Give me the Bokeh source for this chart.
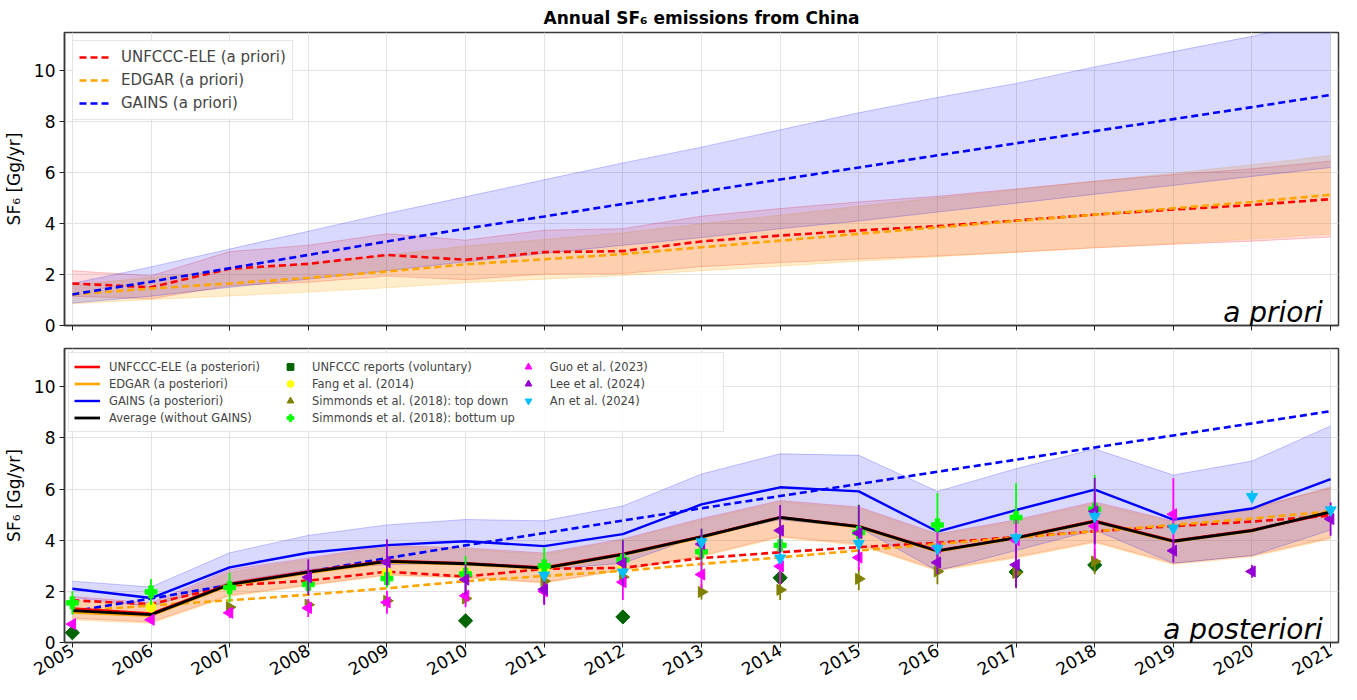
import math
from bokeh.plotting import figure
from bokeh.layouts import column
from bokeh.models import Range1d, FixedTicker, Legend, LegendItem, Label
from bokeh.embed import file_html
from bokeh.resources import INLINE

FONT = "DejaVu Sans"

years = [2005, 2006, 2007, 2008, 2009, 2010, 2011, 2012, 2013, 2014, 2015, 2016, 2017, 2018, 2019, 2020, 2021]
y_ticks = [0, 2, 4, 6, 8, 10]

# ---- a priori ----
unfccc_pri = [1.65, 1.50, 2.23, 2.42, 2.77, 2.58, 2.88, 2.92, 3.30, 3.53, 3.73, 3.90, 4.12, 4.35, 4.55, 4.73, 4.96]
unfccc_pri_lo = [1.15, 1.05, 1.56, 1.70, 1.94, 1.80, 2.02, 2.04, 2.31, 2.47, 2.61, 2.73, 2.88, 3.05, 3.19, 3.31, 3.47]
unfccc_pri_hi = [2.15, 1.95, 2.90, 3.15, 3.60, 3.35, 3.74, 3.80, 4.29, 4.59, 4.85, 5.07, 5.36, 5.66, 5.92, 6.15, 6.45]
edgar_pri = [1.22, 1.45, 1.65, 1.87, 2.12, 2.40, 2.60, 2.80, 3.07, 3.33, 3.60, 3.85, 4.10, 4.35, 4.60, 4.85, 5.13]
edgar_pri_lo = [0.85, 1.02, 1.16, 1.31, 1.48, 1.68, 1.82, 1.96, 2.15, 2.33, 2.52, 2.70, 2.87, 3.05, 3.22, 3.40, 3.59]
edgar_pri_hi = [1.59, 1.89, 2.15, 2.43, 2.76, 3.12, 3.38, 3.64, 3.99, 4.33, 4.68, 5.01, 5.33, 5.66, 5.98, 6.31, 6.67]
gains_pri = [1.22, 1.72, 2.25, 2.77, 3.30, 3.80, 4.28, 4.77, 5.25, 5.73, 6.20, 6.68, 7.15, 7.63, 8.10, 8.57, 9.05]
gains_pri_lo = [0.88, 1.15, 1.50, 1.82, 2.15, 2.50, 2.83, 3.15, 3.45, 3.80, 4.10, 4.45, 4.80, 5.15, 5.50, 5.85, 6.20]
gains_pri_hi = [1.65, 2.30, 3.00, 3.70, 4.40, 5.05, 5.72, 6.38, 7.00, 7.68, 8.35, 8.95, 9.50, 10.15, 10.75, 11.35, 12.00]

# ---- a posteriori ----
unfccc_post = [1.33, 1.13, 2.30, 2.78, 3.20, 3.10, 2.93, 3.47, 4.15, 4.90, 4.55, 3.60, 4.10, 4.76, 3.98, 4.40, 5.07]
unfccc_post_lo = [0.95, 0.80, 1.85, 2.25, 2.65, 2.55, 2.35, 2.85, 3.40, 4.15, 3.85, 2.85, 3.35, 3.95, 3.10, 3.40, 4.10]
unfccc_post_hi = [1.80, 1.55, 2.85, 3.30, 3.80, 3.70, 3.50, 4.05, 4.85, 5.55, 5.30, 4.25, 4.80, 5.50, 4.75, 5.25, 6.05]
edgar_post = [1.18, 1.05, 2.24, 2.72, 3.14, 3.06, 2.89, 3.43, 4.11, 4.88, 4.51, 3.56, 4.08, 4.72, 3.94, 4.36, 5.14]
edgar_post_lo = [0.88, 0.75, 1.80, 2.22, 2.62, 2.52, 2.33, 2.82, 3.35, 4.10, 3.80, 2.80, 3.30, 3.90, 3.05, 3.35, 4.05]
edgar_post_hi = [1.65, 1.45, 2.75, 3.25, 3.75, 3.65, 3.45, 4.00, 4.80, 5.50, 5.25, 4.20, 4.75, 5.45, 4.70, 5.20, 6.10]
gains_post = [2.10, 1.74, 2.94, 3.51, 3.81, 3.96, 3.77, 4.24, 5.40, 6.07, 5.91, 4.34, 5.18, 5.98, 4.81, 5.24, 6.39]
gains_post_lo = [1.76, 1.41, 2.35, 2.85, 3.05, 3.10, 2.85, 3.10, 4.20, 4.80, 4.50, 2.80, 3.60, 4.40, 3.10, 3.40, 4.40]
gains_post_hi = [2.40, 2.17, 3.51, 4.19, 4.60, 4.81, 4.76, 5.34, 6.59, 7.38, 7.32, 5.91, 6.80, 7.57, 6.55, 7.10, 8.47]
avg_post = [1.25, 1.09, 2.27, 2.75, 3.17, 3.08, 2.91, 3.45, 4.13, 4.89, 4.53, 3.58, 4.09, 4.74, 3.96, 4.38, 5.11]

# ---- independent estimates ----
unfccc_rep_years = [2005, 2010, 2012, 2014, 2017, 2018]
unfccc_rep = [0.38, 0.85, 1.00, 2.53, 2.76, 3.03]

fang_years = [2006, 2009, 2010, 2011, 2012]
fang = [1.38, 2.72, 2.75, 2.85, 2.89]
fang_err = [0.15, 0.20, 0.20, 0.20, 0.20]

simm_td_years = [2007, 2008, 2009, 2010, 2011, 2012, 2013, 2014, 2015, 2016, 2017, 2018]
simm_td = [1.38, 1.48, 1.63, 1.72, 2.40, 2.56, 1.98, 2.06, 2.49, 2.78, 2.72, 3.17]
simm_td_err = [0.15, 0.15, 0.20, 0.20, 0.20, 0.25, 0.30, 0.40, 0.45, 0.50, 0.60, 0.50]

simm_bu_years = [2005, 2006, 2007, 2008, 2009, 2010, 2011, 2012, 2013, 2014, 2015, 2016, 2017, 2018]
simm_bu = [1.55, 1.98, 2.15, 2.27, 2.50, 2.68, 3.00, 3.23, 3.55, 3.80, 4.30, 4.60, 4.89, 5.21]
simm_bu_err = [0.45, 0.50, 0.58, 0.35, 0.35, 0.70, 0.72, 0.80, 0.90, 1.00, 1.10, 1.25, 1.34, 1.34]

guo_years = [2005, 2006, 2007, 2008, 2009, 2010, 2011, 2012, 2013, 2014, 2015, 2016, 2017, 2018, 2019]
guo = [0.72, 0.89, 1.16, 1.35, 1.57, 1.83, 2.00, 2.36, 2.66, 2.98, 3.32, 3.70, 4.00, 4.55, 5.02]
guo_err = [0.12, 0.12, 0.20, 0.35, 0.45, 0.45, 0.50, 0.70, 0.55, 0.70, 0.50, 0.60, 0.80, 1.30, 1.40]

lee_years = [2008, 2009, 2010, 2011, 2012, 2013, 2014, 2015, 2016, 2017, 2018, 2019, 2020, 2021]
lee = [2.55, 3.14, 2.46, 2.08, 3.10, 3.85, 4.38, 4.28, 3.13, 3.04, 5.13, 3.59, 2.78, 4.83]
lee_err = [0.70, 0.90, 0.60, 0.60, 0.90, 0.60, 1.00, 1.10, 0.45, 0.90, 1.30, 0.45, 0.25, 0.65]

an_years = [2011, 2012, 2013, 2014, 2015, 2016, 2017, 2018, 2019, 2020, 2021]
an = [2.63, 2.75, 3.93, 3.30, 3.87, 3.68, 4.09, 4.93, 4.47, 5.70, 5.18]
an_err = [0.15, 0.15, 0.20, 0.20, 0.20, 0.20, 0.20, 0.20, 0.20, 0.25, 0.20]


def make_fig(height, top, bottom, show_xlabels):
    p = figure(width=1341, height=height, output_backend="svg", toolbar_location=None,
               x_range=Range1d(2004.9, 2021.1), y_range=Range1d(0, 11.5),
               min_border_left=58, min_border_right=3, min_border_top=top,
               min_border_bottom=bottom, background_fill_color="white",
               border_fill_color="white")
    p.xaxis.ticker = FixedTicker(ticks=years)
    p.yaxis.ticker = FixedTicker(ticks=y_ticks)
    p.xgrid.grid_line_color = "#e3e3e3"
    p.ygrid.grid_line_color = "#e3e3e3"
    p.outline_line_color = "#3a3a3a"
    p.outline_line_width = 1.5
    p.outline_line_alpha = 1
    for ax in (p.xaxis, p.yaxis):
        ax.axis_line_color = "#3a3a3a"
        ax.axis_line_width = 1.5
        ax.major_tick_line_color = "#222222"
        ax.major_tick_out = 5
        ax.major_tick_in = 0
        ax.minor_tick_line_color = None
        ax.major_label_text_font = FONT
        ax.major_label_text_font_size = "17px"
        ax.major_label_text_color = "black"
    p.yaxis.axis_label = "SF₆ [Gg/yr]"
    p.yaxis.axis_label_text_font = FONT
    p.yaxis.axis_label_text_font_size = "17px"
    p.yaxis.axis_label_text_font_style = "normal"
    p.yaxis.axis_label_text_color = "black"
    p.yaxis.axis_label_standoff = 7
    p.yaxis.major_label_standoff = 4
    if show_xlabels:
        p.xaxis.major_label_orientation = math.pi / 6
        p.xaxis.major_label_standoff = 1
        p.xaxis.major_label_text_line_height = 0.85
    else:
        p.xaxis.major_label_overrides = {y: "" for y in years}
        p.xaxis.major_label_text_font_size = "0px"
        p.xaxis.major_label_standoff = 0
    return p


def band(p, lo, hi, color, alpha):
    p.varea(x=years, y1=lo, y2=hi, fill_color=color, fill_alpha=alpha)
    p.line(years, lo, line_color=color, line_alpha=0.22, line_width=1)
    p.line(years, hi, line_color=color, line_alpha=0.22, line_width=1)


DASH = "7 4"

# ================= top panel =================
p1 = make_fig(337, 24, 12, False)
p1.title.text = "Annual SF₆ emissions from China"
p1.title.align = "center"
p1.title.text_font = FONT
p1.title.text_font_size = "17px"
p1.title.text_font_style = "bold"
p1.title.text_color = "black"

band(p1, unfccc_pri_lo, unfccc_pri_hi, "red", 0.14)
band(p1, edgar_pri_lo, edgar_pri_hi, "orange", 0.2)
band(p1, gains_pri_lo, gains_pri_hi, "blue", 0.15)
r_u = p1.line(years, unfccc_pri, line_color="red", line_width=2.6, line_dash=DASH)
r_e = p1.line(years, edgar_pri, line_color="orange", line_width=2.6, line_dash=DASH)
r_g = p1.line(years, gains_pri, line_color="blue", line_width=2.6, line_dash=DASH)

leg1 = Legend(items=[LegendItem(label="UNFCCC-ELE (a priori)", renderers=[r_u]),
                     LegendItem(label="EDGAR (a priori)", renderers=[r_e]),
                     LegendItem(label="GAINS (a priori)", renderers=[r_g])],
              location="top_left")
leg1.margin = 8
leg1.padding = 6
leg1.spacing = 3
leg1.glyph_width = 30
leg1.glyph_height = 20
leg1.label_standoff = 12
leg1.label_text_font = FONT
leg1.label_text_font_size = "15px"
leg1.border_line_color = "#cccccc"
leg1.border_line_width = 1
leg1.background_fill_alpha = 0.85
p1.add_layout(leg1)

p1.add_layout(Label(x=2020.9, y=0.5, text="a priori", text_align="right",
                    text_baseline="alphabetic", text_font=FONT, text_font_size="28px",
                    text_font_style="italic", text_color="black"))

# ================= bottom panel =================
p2 = make_fig(347, 11, 34, True)

band(p2, unfccc_post_lo, unfccc_post_hi, "red", 0.14)
band(p2, edgar_post_lo, edgar_post_hi, "orange", 0.2)
band(p2, gains_post_lo, gains_post_hi, "blue", 0.15)

p2.line(years, unfccc_pri, line_color="red", line_width=2.6, line_dash=DASH)
p2.line(years, edgar_pri, line_color="orange", line_width=2.6, line_dash=DASH)
p2.line(years, gains_pri, line_color="blue", line_width=2.6, line_dash=DASH)

ru = p2.line(years, unfccc_post, line_color="red", line_width=2.6)
re_ = p2.line(years, edgar_post, line_color="orange", line_width=2.6)
rg = p2.line(years, gains_post, line_color="blue", line_width=2.4)
ra = p2.line(years, avg_post, line_color="black", line_width=2.8)


def errpts(p, xs, vals, errs, color, marker, size, angle=0.0):
    p.segment(x0=xs, y0=[v - e for v, e in zip(vals, errs)], x1=xs,
              y1=[v + e for v, e in zip(vals, errs)], line_color=color, line_width=1.8)
    return p.scatter(xs, vals, marker=marker, size=size, angle=angle,
                     fill_color=color, line_color=color)


r_rep = p2.scatter(unfccc_rep_years, unfccc_rep, marker="square", size=10, angle=math.pi / 4,
                   fill_color="darkgreen", line_color="darkgreen")
r_fang = errpts(p2, fang_years, fang, fang_err, "yellow", "circle", 10)
r_td = errpts(p2, simm_td_years, simm_td, simm_td_err, "olive", "triangle", 11, -math.pi / 2)
r_bu = errpts(p2, simm_bu_years, simm_bu, simm_bu_err, "lime", "plus", 12)
r_guo = errpts(p2, guo_years, guo, guo_err, "magenta", "triangle", 11, math.pi / 2)
r_lee = errpts(p2, lee_years, lee, lee_err, "darkviolet", "triangle", 11, math.pi / 2)
r_an = errpts(p2, an_years, an, an_err, "deepskyblue", "inverted_triangle", 11)

leg2 = Legend(items=[LegendItem(label="UNFCCC-ELE (a posteriori)", renderers=[ru]),
                     LegendItem(label="EDGAR (a posteriori)", renderers=[re_]),
                     LegendItem(label="GAINS (a posteriori)", renderers=[rg]),
                     LegendItem(label="Average (without GAINS)", renderers=[ra]),
                     LegendItem(label="UNFCCC reports (voluntary)", renderers=[r_rep]),
                     LegendItem(label="Fang et al. (2014)", renderers=[r_fang]),
                     LegendItem(label="Simmonds et al. (2018): top down", renderers=[r_td]),
                     LegendItem(label="Simmonds et al. (2018): bottum up", renderers=[r_bu]),
                     LegendItem(label="Guo et al. (2023)", renderers=[r_guo]),
                     LegendItem(label="Lee et al. (2024)", renderers=[r_lee]),
                     LegendItem(label="An et al. (2024)", renderers=[r_an])],
              location="top_left", nrows=4)
leg2.margin = 4
leg2.padding = 5
leg2.spacing = 0
leg2.glyph_width = 26
leg2.glyph_height = 17
leg2.label_standoff = 9
leg2.label_height = 14
leg2.label_width = 168
leg2.label_text_font = FONT
leg2.label_text_font_size = "11.5px"
leg2.border_line_color = "#cccccc"
leg2.border_line_width = 1
leg2.background_fill_alpha = 0.85
p2.add_layout(leg2)

p2.add_layout(Label(x=2020.9, y=0.5, text="a posteriori", text_align="right",
                    text_baseline="alphabetic", text_font=FONT, text_font_size="28px",
                    text_font_style="italic", text_color="black"))

layout = column(p1, p2, spacing=0)
open("out.html", "w").write(file_html(layout, INLINE))
